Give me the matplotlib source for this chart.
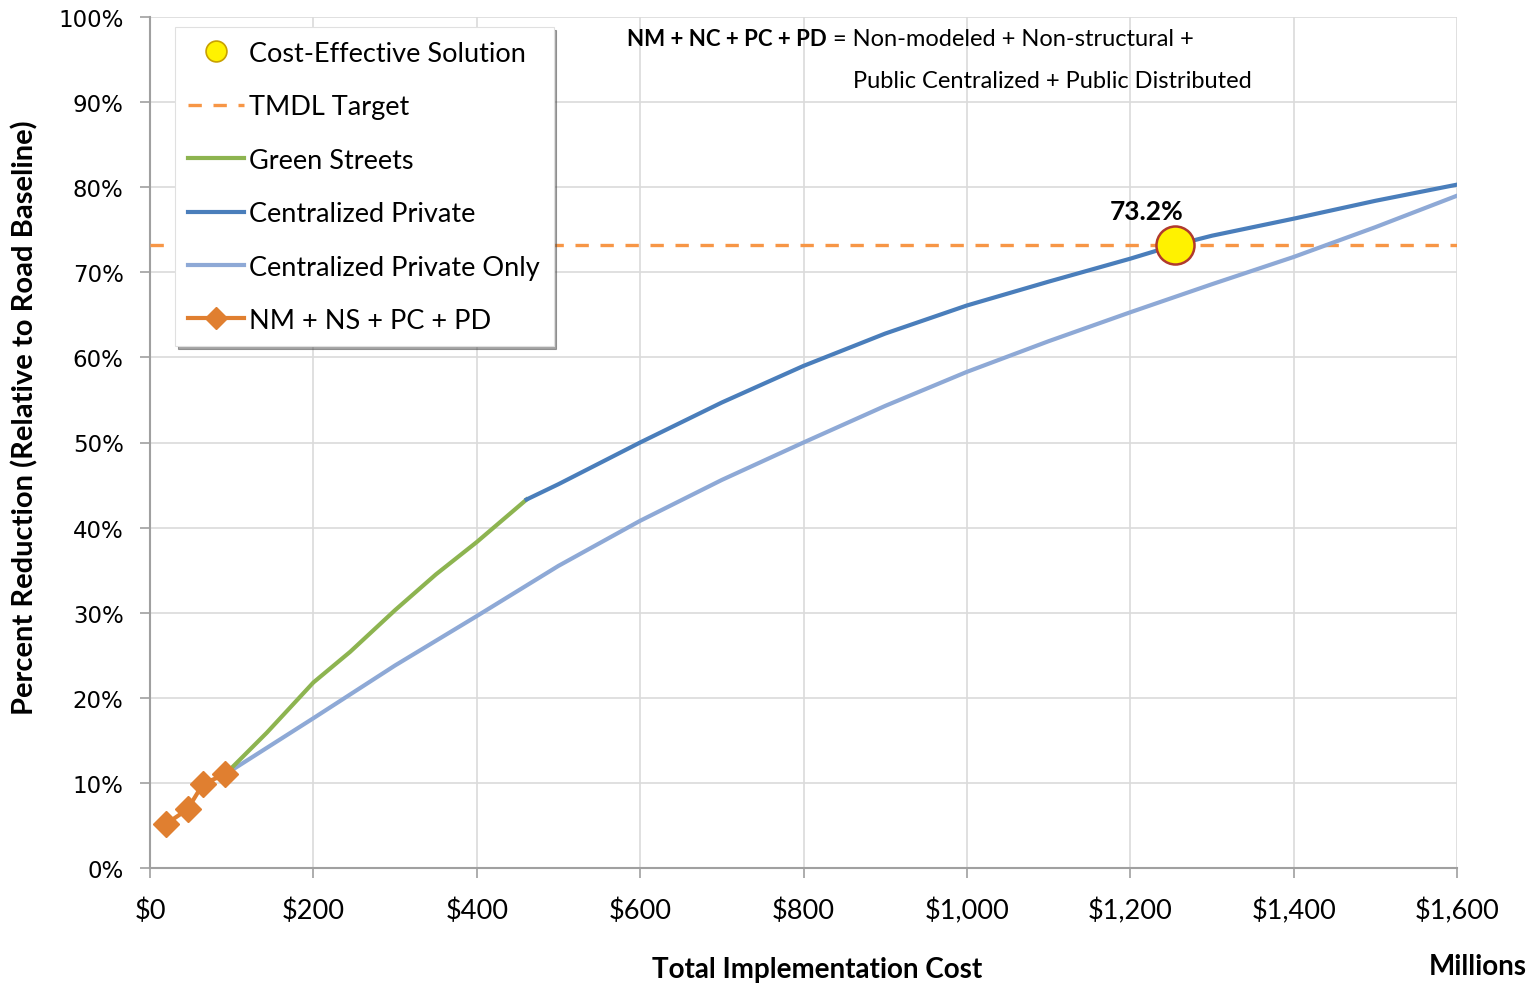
import numpy as np
import matplotlib.pyplot as plt
from matplotlib.lines import Line2D
from matplotlib.ticker import FuncFormatter, MultipleLocator

plt.rcParams['font.family'] = ['Lato', 'DejaVu Sans']

# --- data (cost in $ millions, reduction in %) ---
nm_cost = [20, 46, 65, 92]
nm_pct = [5.2, 6.9, 9.9, 11.0]

green_cost = [92, 143, 200, 245, 300, 350, 400, 461]
green_pct = [11.0, 15.9, 21.8, 25.4, 30.3, 34.5, 38.3, 43.3]

cp_cost = [461, 500, 600, 700, 800, 900, 1000, 1100, 1200, 1255, 1300, 1400, 1500, 1600]
cp_pct = [43.3, 45.1, 50.0, 54.7, 59.0, 62.8, 66.1, 68.9, 71.6, 73.2, 74.3, 76.3, 78.4, 80.3]

cpo_cost = [92, 200, 300, 400, 500, 600, 700, 800, 900, 1000, 1100, 1200, 1300, 1400, 1500, 1600]
cpo_pct = [11.0, 17.6, 23.8, 29.6, 35.5, 40.8, 45.6, 50.0, 54.3, 58.3, 61.9, 65.3, 68.6, 71.8, 75.3, 79.0]

y_ticks = [0, 10, 20, 30, 40, 50, 60, 70, 80, 90, 100]
y_ticklabels = ['0%', '10%', '20%', '30%', '40%', '50%', '60%', '70%', '80%', '90%', '100%']

tmdl_target = 73.2
solution_cost = 1255
solution_pct = 73.2

fig = plt.figure(figsize=(15.39, 9.87), dpi=100)
ax = fig.add_axes([150 / 1539, 1 - 869 / 987, 1307 / 1539, 851 / 987])

ax.axhline(tmdl_target, color='#F79646', lw=2.4, ls=(0, (4, 3.5)), zorder=3)
ax.plot(green_cost, green_pct, color='#8DB450', lw=3, zorder=4)
ax.plot(cp_cost, cp_pct, color='#4A7EBB', lw=3, zorder=4)
ax.plot(cpo_cost, cpo_pct, color='#8EA9D6', lw=3, zorder=3)
ax.plot(nm_cost, nm_pct, color='#E07F30', lw=3, marker='D', ms=13, zorder=5)
ax.scatter([solution_cost], [solution_pct], s=750, color='#FFF200', edgecolor='#B03A2E',
           lw=1.8, zorder=6)
ax.text(solution_cost - 35, solution_pct + 2.6, f'{solution_pct:.1f}%', fontsize=19,
        fontweight='bold', ha='center', va='bottom')

ax.set_xlim(0, 1600)
ax.set_ylim(0, 100)
ax.xaxis.set_major_locator(MultipleLocator(200))
ax.xaxis.set_major_formatter(FuncFormatter(lambda v, p: f'${v:,.0f}'))
ax.set_yticks(y_ticks)
ax.set_yticklabels(y_ticklabels, fontfamily='DejaVu Sans', fontsize=16.5)
ax.tick_params(color='#A0A0A0', length=7, width=1.2)
ax.tick_params(axis='x', labelsize=19.5, pad=14)
ax.tick_params(axis='y', pad=12)
ax.grid(True, color='#DADADA', lw=1.2)
ax.set_axisbelow(True)
for s in ['top', 'right']:
    ax.spines[s].set_visible(False)
for s in ['left', 'bottom']:
    ax.spines[s].set_color('#A0A0A0')
    ax.spines[s].set_linewidth(1.5)

fig.text(25 / 1539, 1 - 418 / 987, 'Percent Reduction (Relative to Road Baseline)',
         fontsize=21, fontweight='bold', rotation=90, ha='center', va='center')
fig.text(817 / 1539, 1 - 970 / 987, 'Total Implementation Cost', fontsize=20,
         fontweight='bold', ha='center', va='center')
fig.text(1478 / 1539, 1 - 967 / 987, 'Millions', fontsize=20,
         fontweight='bold', ha='center', va='center')

fig.text(627 / 1539, 1 - 40 / 987, 'NM + NC + PC + PD', fontsize=16,
         fontweight='bold', ha='left', va='center')
fig.text(833 / 1539, 1 - 40 / 987, '= Non-modeled + Non-structural +', fontsize=17,
         ha='left', va='center')
fig.text(853 / 1539, 1 - 81 / 987, 'Public Centralized + Public Distributed', fontsize=17,
         ha='left', va='center')

handles = [
    Line2D([], [], ls='none', marker='o', ms=15, mfc='#FFF200', mec='#C8A000', mew=1.2),
    Line2D([], [], color='#F79646', lw=2.4, ls=(0, (4, 3.5))),
    Line2D([], [], color='#8DB450', lw=3),
    Line2D([], [], color='#4A7EBB', lw=3),
    Line2D([], [], color='#8EA9D6', lw=3),
    Line2D([], [], color='#E07F30', lw=3, marker='D', ms=11),
]
labels = ['Cost-Effective Solution', 'TMDL Target', 'Green Streets',
          'Centralized Private', 'Centralized Private Only', 'NM + NS + PC + PD']
leg = ax.legend(handles, labels, loc='upper left', bbox_to_anchor=(0.019, 0.988),
                fontsize=19.5, frameon=True, fancybox=False, shadow=True,
                edgecolor='#E0E0E0', handlelength=2.05, labelspacing=1.05,
                borderpad=0.5, handletextpad=0.2, borderaxespad=0)
leg.get_frame().set_linewidth(0.8)

fig.savefig('out.png', dpi=100)
